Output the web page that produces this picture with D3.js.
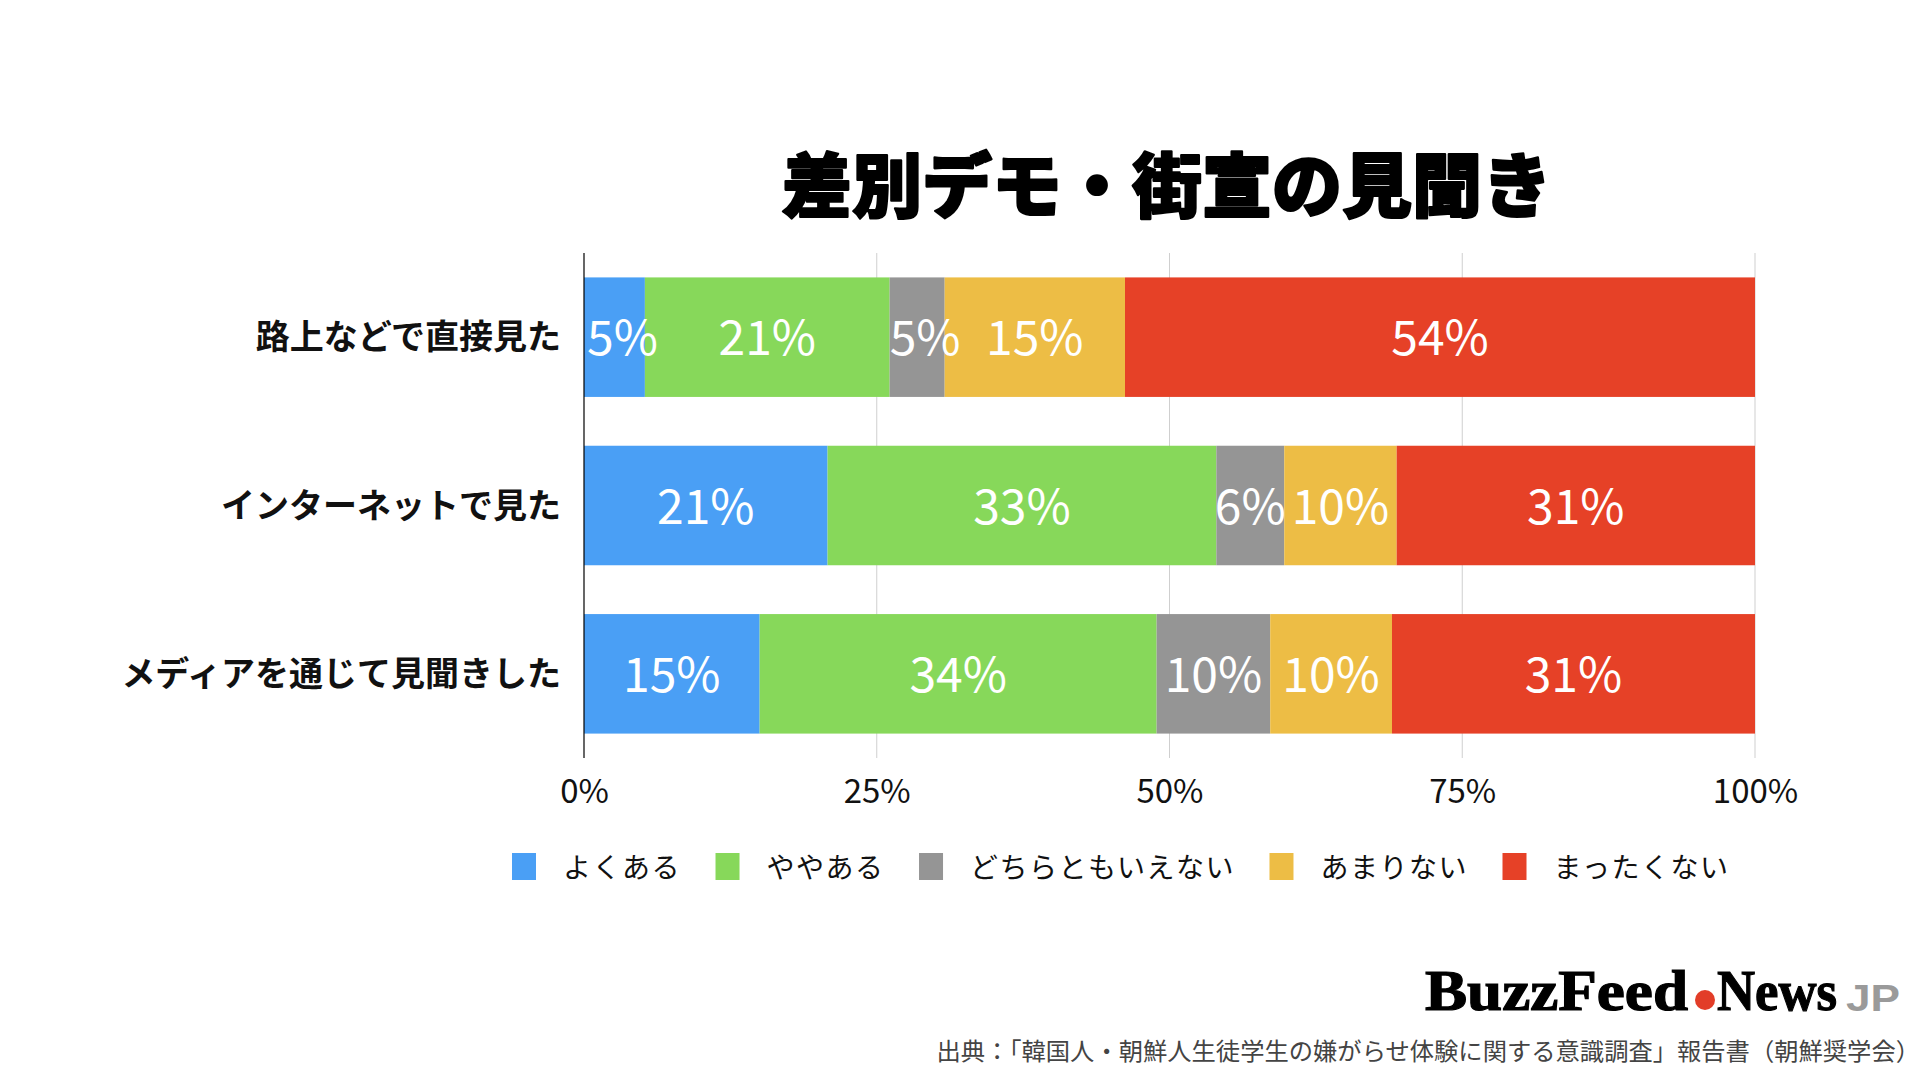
<!DOCTYPE html>
<html>
<head>
<meta charset="utf-8">
<script src="https://cdn.jsdelivr.net/npm/d3@7"></script>
<style>
  html, body { margin: 0; padding: 0; background: #fff; }
  svg { display: block; font-family: "Noto Sans CJK JP", "Noto Sans", sans-serif; }
</style>
</head>
<body>
<svg id="chart" width="1920" height="1080"></svg>
<script>
// ---- data ----
const title = "差別デモ・街宣の見聞き";
const categories = ["路上などで直接見た", "インターネットで見た", "メディアを通じて見聞きした"];
const seriesNames = ["よくある", "ややある", "どちらともいえない", "あまりない", "まったくない"];
const seriesColors = ["#4A9FF5", "#87D85A", "#959595", "#EDBD45", "#E64127"];
const valuesYokuAru    = [5.2, 20.8, 15.0];
const valuesYayaAru    = [20.9, 33.2, 33.9];
const valuesDochira    = [4.7, 5.8, 9.7];
const valuesAmari      = [15.4, 9.6, 10.4];
const valuesMattaku    = [53.8, 30.6, 31.0];
const tickValues = [0, 25, 50, 75, 100];
const tickLabels = ["0%", "25%", "50%", "75%", "100%"];
const sourceText = "出典：「韓国人・朝鮮人生徒学生の嫌がらせ体験に関する意識調査」報告書（朝鮮奨学会）";

const seriesValues = [valuesYokuAru, valuesYayaAru, valuesDochira, valuesAmari, valuesMattaku];

// ---- build table ----
const table = categories.map((c, i) => {
  const row = { category: c };
  seriesNames.forEach((s, j) => row[s] = seriesValues[j][i]);
  return row;
});
const stacked = d3.stack().keys(seriesNames)(table);

const svg = d3.select("#chart");

// ---- scales ----
const x = d3.scaleLinear().domain([0, 100]).range([584, 1755]);
const y = d3.scaleBand().domain(categories).range([253, 758]).paddingInner(0.29).paddingOuter(0.145);
const color = d3.scaleOrdinal().domain(seriesNames).range(seriesColors);

// ---- title ----
svg.append("text")
  .attr("x", 1167)
  .attr("y", 181)
  .attr("text-anchor", "middle")
  .attr("dominant-baseline", "central")
  .attr("font-size", 70)
  .attr("font-weight", 900)
  .attr("fill", "#000")
  .attr("stroke", "#000")
  .attr("stroke-width", 2.2)
  .attr("stroke-linejoin", "round")
  .text(title);

// ---- gridlines ----
const gridTop = 253, gridBottom = 758;
svg.append("g").selectAll("line")
  .data(tickValues.slice(1))
  .join("line")
  .attr("x1", d => x(d)).attr("x2", d => x(d))
  .attr("y1", gridTop).attr("y2", gridBottom)
  .attr("stroke", "#cfcfcf").attr("stroke-width", 1);

// ---- bars ----
const groups = svg.append("g").selectAll("g")
  .data(stacked)
  .join("g")
  .attr("fill", d => color(d.key));

groups.selectAll("rect")
  .data(d => d)
  .join("rect")
  .attr("x", d => x(d[0]))
  .attr("width", d => x(d[1]) - x(d[0]))
  .attr("y", d => y(d.data.category))
  .attr("height", y.bandwidth());

// ---- bar labels ----
const labelFs = 48;
const labelG = svg.append("g");
stacked.forEach(series => {
  series.forEach(d => {
    const w = x(d[1]) - x(d[0]);
    labelG.append("text")
      .attr("x", (x(d[0]) + x(d[1])) / 2 + (w < 70 && (d[1] - d[0]) < 5.5 ? 8 : 0))
      .attr("y", y(d.data.category) + y.bandwidth() / 2 + labelFs * 0.38)
      .attr("text-anchor", "middle")
      .attr("font-size", labelFs)
      .attr("font-weight", 400)
      .attr("fill", "#fff")
      .text(Math.round(d[1] - d[0]) + "%");
  });
});

// ---- zero axis line ----
svg.append("line")
  .attr("x1", x(0)).attr("x2", x(0))
  .attr("y1", gridTop).attr("y2", gridBottom)
  .attr("stroke", "#000").attr("stroke-width", 1.2);

// ---- x axis labels ----
const xAxis = d3.axisBottom(x).tickValues(tickValues)
  .tickFormat((d, i) => tickLabels[i]).tickSize(0).tickPadding(0);
const xg = svg.append("g").attr("transform", "translate(0,803)").call(xAxis);
xg.select(".domain").remove();
xg.selectAll("text")
  .attr("dy", 0)
  .attr("y", 0)
  .attr("font-size", 33)
  .attr("font-family", "'Noto Sans CJK JP', 'Noto Sans', sans-serif")
  .attr("fill", "#111");

// ---- y axis labels ----
const yAxis = d3.axisLeft(y).tickSize(0).tickPadding(0);
const yg = svg.append("g").attr("transform", "translate(561,0)").call(yAxis);
yg.select(".domain").remove();
yg.selectAll("text")
  .attr("dy", "0.36em")
  .attr("font-size", 34)
  .attr("font-weight", 700)
  .attr("font-family", "'Noto Sans CJK JP', sans-serif")
  .attr("fill", "#111");

// ---- legend ----
const legend = svg.append("g");
let lx = 512;
const ly = 866;
seriesNames.forEach((name, i) => {
  legend.append("rect")
    .attr("x", lx).attr("y", ly - 13)
    .attr("width", 24).attr("height", 27)
    .attr("fill", color(name));
  const t = legend.append("text")
    .attr("x", lx + 51)
    .attr("y", ly)
    .attr("dominant-baseline", "central")
    .attr("font-size", 28)
    .attr("letter-spacing", 1.5)
    .attr("fill", "#111")
    .text(name);
  const w = t.node().getComputedTextLength();
  lx = lx + 51 + w + 34.5;
});

// ---- logo ----
const logo = svg.append("g");
logo.append("text")
  .attr("x", 1425).attr("y", 1010)
  .attr("font-family", "'Liberation Serif', 'DejaVu Serif', serif")
  .attr("font-weight", 700)
  .attr("font-size", 58)
  .attr("textLength", 263)
  .attr("lengthAdjust", "spacingAndGlyphs")
  .attr("fill", "#000")
  .attr("stroke", "#000").attr("stroke-width", 1.2)
  .text("BuzzFeed");
logo.append("circle")
  .attr("cx", 1705).attr("cy", 1000).attr("r", 10)
  .attr("fill", "#E23D28");
logo.append("text")
  .attr("x", 1717).attr("y", 1010)
  .attr("font-family", "'Liberation Serif', 'DejaVu Serif', serif")
  .attr("font-weight", 700)
  .attr("font-size", 58)
  .attr("textLength", 120)
  .attr("lengthAdjust", "spacingAndGlyphs")
  .attr("fill", "#000")
  .attr("stroke", "#000").attr("stroke-width", 1.2)
  .text("News");
logo.append("text")
  .attr("x", 1846).attr("y", 1011)
  .attr("font-family", "'Liberation Sans', Arial, sans-serif")
  .attr("font-weight", 700)
  .attr("font-size", 37)
  .attr("textLength", 54)
  .attr("lengthAdjust", "spacingAndGlyphs")
  .attr("fill", "#9a9a9a")
  .text("JP");

// ---- source ----
svg.append("text")
  .attr("x", 1920).attr("y", 1049)
  .attr("text-anchor", "end")
  .attr("dominant-baseline", "central")
  .attr("font-size", 24.3)
  .attr("fill", "#444")
  .text(sourceText);
</script>
</body>
</html>
